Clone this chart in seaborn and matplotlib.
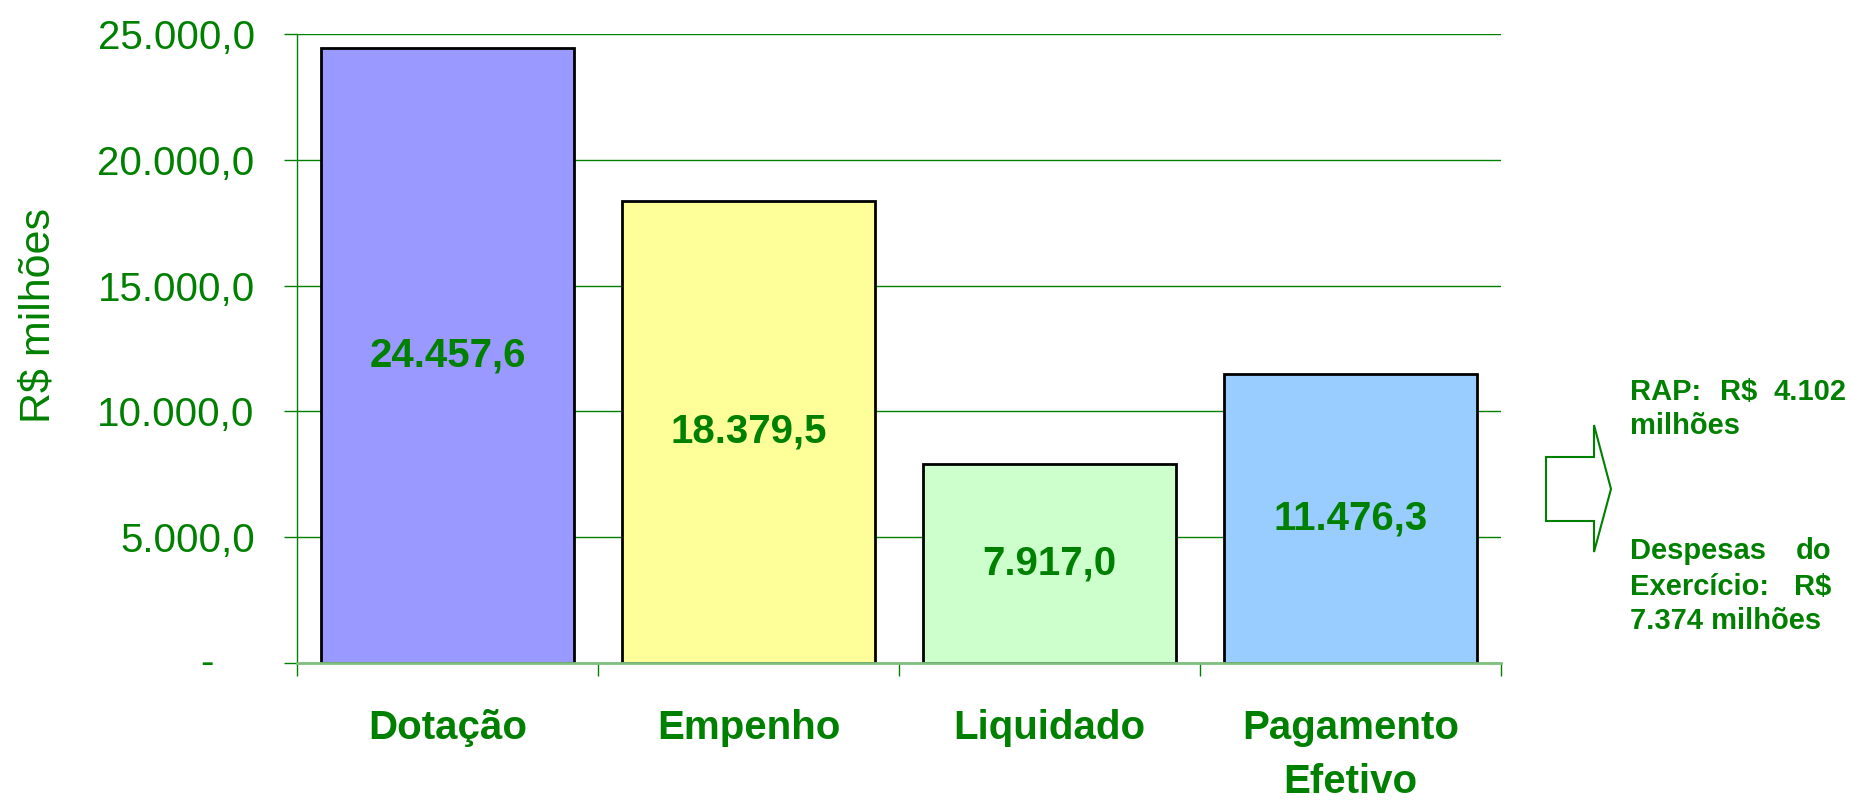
import matplotlib
matplotlib.use("Agg")
import matplotlib.pyplot as plt
import seaborn as sns
from matplotlib.patches import Polygon
from matplotlib.ticker import FixedLocator, FuncFormatter

# Dados (R$ milhões)
categorias = ["Dotação", "Empenho", "Liquidado", "Pagamento\nEfetivo"]
valores = [24457.6, 18379.5, 7917.0, 11476.3]
cores = ["#9999FF", "#FFFF99", "#CCFFCC", "#99CCFF"]
y_ticks = [0, 5000, 10000, 15000, 20000, 25000]

verde = "#008000"

def fmt_br(v):
    s = f"{v:,.1f}"
    return s.replace(",", "X").replace(".", ",").replace("X", ".")

sns.set_style("white")
plt.rcParams["font.family"] = ["Liberation Sans", "DejaVu Sans"]

W, H = 1852, 800
fig = plt.figure(figsize=(W / 100, H / 100), dpi=100)
ax_l, ax_r, ax_t, ax_b = 297, 1501, 34, 663
ax = fig.add_axes([ax_l / W, (H - ax_b) / H, (ax_r - ax_l) / W, (ax_b - ax_t) / H])

sns.barplot(x=categorias, y=valores, hue=categorias, palette=cores, legend=False,
            saturation=1, width=0.84, edgecolor="black", linewidth=2, ax=ax)

ax.set_xlim(-0.5, 3.5)
ax.set_ylim(0, 25000)
ax.set_axisbelow(True)
ax.yaxis.grid(True, color=verde, linewidth=1)
ax.xaxis.grid(False)

for s in ["top", "right"]:
    ax.spines[s].set_visible(False)
ax.spines["left"].set_color(verde)
ax.spines["left"].set_linewidth(1)
ax.spines["bottom"].set_color("#7FBF7F")
ax.spines["bottom"].set_linewidth(2)

# eixo y
ax.yaxis.set_major_locator(FixedLocator(y_ticks))
ax.yaxis.set_major_formatter(FuncFormatter(lambda v, p: "" if v == 0 else fmt_br(v)))
ax.tick_params(axis="y", which="major", direction="out", length=9.5, width=1,
               color=verde, labelcolor=verde, labelsize=29, pad=21, left=True)
ax.annotate("-", xy=(0, 0), xycoords=("axes fraction", "data"), xytext=(-83, 0),
            textcoords="offset pixels", ha="right", va="center",
            fontsize=29, color=verde)
ax.set_ylabel("R$ milhões", fontsize=31, color=verde, va="center", ha="center")
ax.yaxis.set_label_coords((39 - ax_l) / (ax_r - ax_l), (ax_b - 316) / (ax_b - ax_t))

# eixo x: rótulos no centro, marcas nas divisões
ax.set_xticks(range(len(categorias)))
ax.set_xticklabels(categorias, fontweight="bold", fontsize=29, color=verde, linespacing=1.55)
ax.tick_params(axis="x", which="major", length=0, pad=33)
ax.set_xticks([i - 0.5 for i in range(len(categorias) + 1)], minor=True)
ax.tick_params(axis="x", which="minor", direction="out", length=9.5, width=1,
               color=verde, bottom=True)
ax.set_xlabel("")

# valores dentro das barras
for i, v in enumerate(valores):
    ax.text(i, v / 2, fmt_br(v), ha="center", va="center", fontsize=29,
            fontweight="bold", color=verde)

# seta e notas à direita
def px(x, y):
    return (x / W, (H - y) / H)

seta = [px(1546, 457), px(1594, 457), px(1594, 425), px(1611, 489),
        px(1594, 552), px(1594, 521), px(1546, 521)]
fig.patches.append(Polygon(seta, closed=True, fill=False, edgecolor=verde,
                           linewidth=1.5, transform=fig.transFigure))

nota = dict(fontsize=21, fontweight="bold", color=verde, va="baseline",
            transform=fig.transFigure)
fig.text(*px(1630, 400), "RAP:", ha="left", **nota)
fig.text(*px(1720, 400), "R$", ha="left", **nota)
fig.text(*px(1846, 400), "4.102", ha="right", **nota)
fig.text(*px(1630, 434), "milhões", ha="left", **nota)
fig.text(*px(1630, 559), "Despesas", ha="left", **nota)
fig.text(*px(1831, 559), "do", ha="right", **nota)
fig.text(*px(1630, 595), "Exercício:", ha="left", **nota)
fig.text(*px(1831, 595), "R$", ha="right", **nota)
fig.text(*px(1630, 629), "7.374 milhões", ha="left", **nota)

fig.savefig("out.png", dpi=100, facecolor="white")
